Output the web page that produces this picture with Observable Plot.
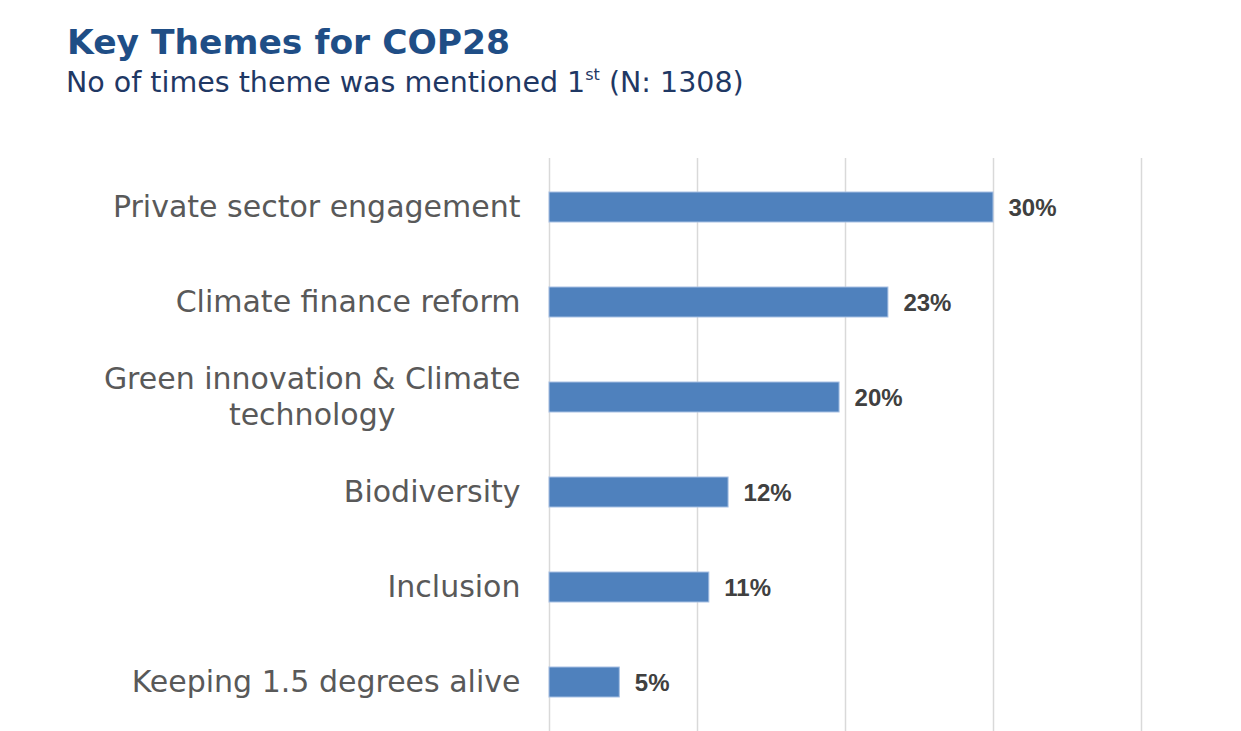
<!DOCTYPE html>
<html><head><meta charset="utf-8">
<script src="https://cdn.jsdelivr.net/npm/d3@7"></script>
<script src="https://cdn.jsdelivr.net/npm/@observablehq/plot@0.6"></script>
<style>
body{margin:0;background:#fff;font-family:"DejaVu Sans",sans-serif;}
#header{height:110px;position:relative;}
#title{position:absolute;left:67px;top:22px;font-weight:bold;font-size:34.5px;color:#1F4E86;white-space:nowrap;line-height:1.2;}
#subtitle{position:absolute;left:66px;top:66px;font-size:28.5px;color:#1F3864;white-space:nowrap;line-height:1.2;}
#subtitle sup{font-size:16px;vertical-align:top;position:relative;top:-1px;}
</style></head><body>
<div id="header">
  <div id="title">Key Themes for COP28</div>
  <div id="subtitle">No of times theme was mentioned 1<sup>st</sup> (N: 1308)</div>
</div>
<div id="chart"></div>
<script>
const themes = [
  "Private sector engagement",
  "Climate finance reform",
  "Green innovation & Climate\ntechnology",
  "Biodiversity",
  "Inclusion",
  "Keeping 1.5 degrees alive"
];
const shares = [30.0, 22.9, 19.6, 12.1, 10.8, 4.75];
const gridTicks = [0, 10, 20, 30, 40];

const data = themes.map((t, i) => ({theme: t, share: shares[i]}));

const chart = Plot.plot({
  width: 1241,
  height: 621,
  marginTop: 48,
  marginBottom: 0,
  marginLeft: 549,
  marginRight: 100,
  x: {domain: [0, 40], axis: null},
  y: {domain: themes, paddingInner: 0.685, paddingOuter: 0.346, label: null, axis: null},
  style: {fontFamily: "DejaVu Sans", fontSize: "30px", color: "#595959", background: "#fff"},
  marks: [
    Plot.ruleX(gridTicks, {stroke: "#d9d9d9", strokeWidth: 1.5}),
    Plot.barX(data, {x: "share", y: "theme", fill: "#4F81BD", stroke: "#a7c0e3", strokeWidth: 1}),
    Plot.text(data, {x: "share", y: "theme", text: d => Math.round(d.share) + "%", dx: 15, dy: 1, textAnchor: "start", fontWeight: "bold", fontSize: 24, fontFamily: "Liberation Sans", fill: "#404040"}),
    Plot.axisY({tickSize: 0, tickPadding: 29, label: null, fontSize: 30, lineHeight: 1.2, dy: -2, fill: "#595959"})
  ]
});
document.getElementById("chart").appendChild(chart);

// center the lines of multi-line tick labels as in the reference
chart.querySelectorAll("text").forEach(t => {
  const spans = t.querySelectorAll("tspan");
  if (spans.length > 1) {
    let w = 0;
    spans.forEach(s => { w = Math.max(w, s.getComputedTextLength()); });
    t.setAttribute("text-anchor", "middle");
    spans.forEach(s => s.setAttribute("x", -w / 2));
  }
});
</script>
</body></html>
